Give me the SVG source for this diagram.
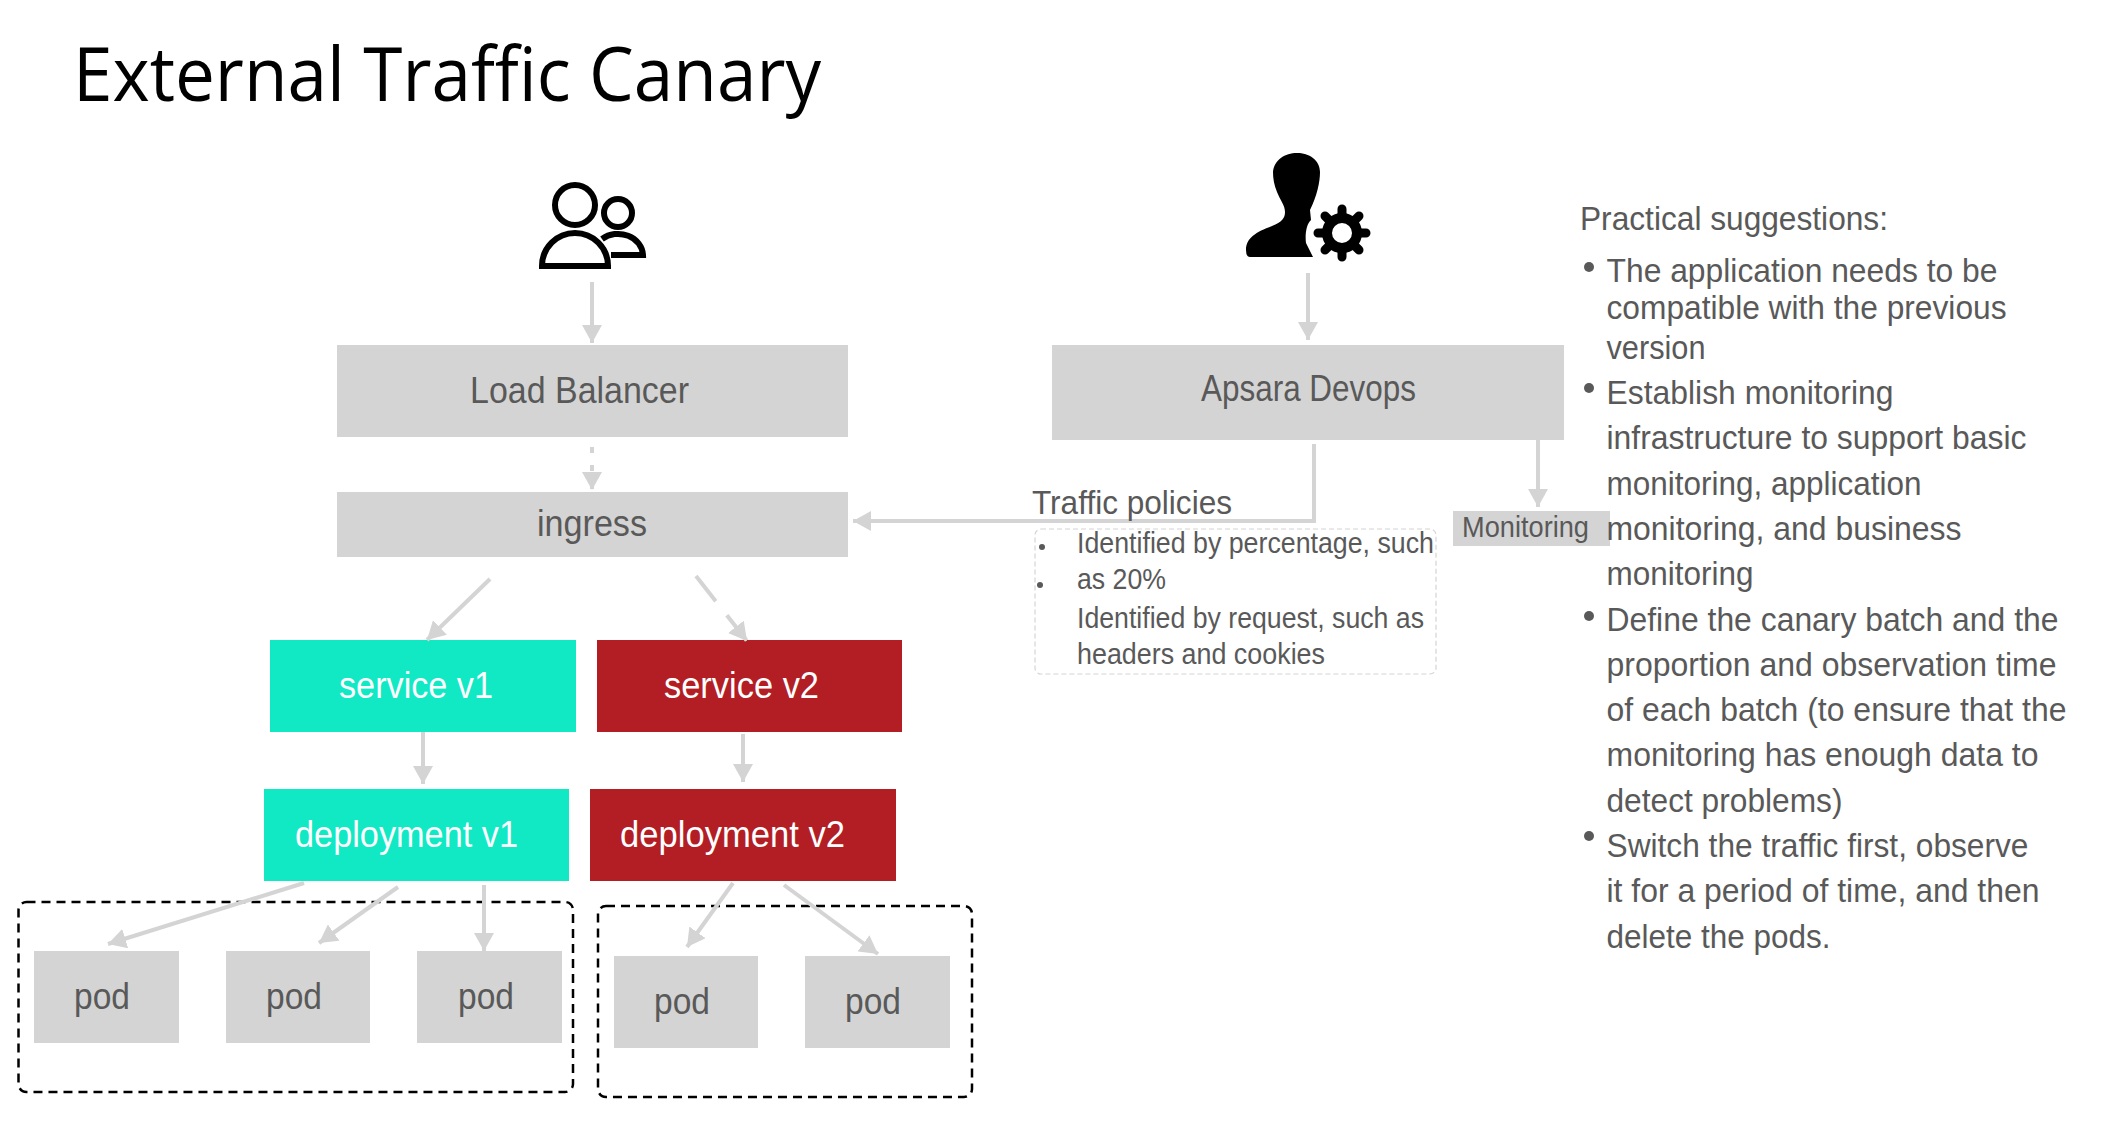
<svg xmlns="http://www.w3.org/2000/svg" width="2110" height="1122" viewBox="0 0 2110 1122">
<style>
text{font-family:"Liberation Sans",Arial,sans-serif;fill:#595959}
.n{font-size:36px}.w{fill:#fff}
.s{font-size:33px}.t{font-size:29px}
.title{font-family:"Open Sans","Noto Sans",sans-serif;font-size:75px;fill:#000}
.g{fill:#d4d4d4}.teal{fill:#10e9c4}.red{fill:#b31d24}
.c{fill:none;stroke:#d4d4d4;stroke-width:4}
.dash{fill:none;stroke:#000;stroke-width:2.5;stroke-dasharray:9 6}
.ic{fill:none;stroke:#000;stroke-width:6}
</style>
<defs>
<marker id="a" markerUnits="userSpaceOnUse" markerWidth="20" markerHeight="20" refX="18" refY="10" orient="auto"><path d="M0 0L18 10L0 20Z" fill="#d4d4d4"/></marker>
</defs>
<text class="title" x="73" y="101" textLength="748" lengthAdjust="spacingAndGlyphs">External Traffic Canary</text>
<g id="users-icon">
<circle class="ic" cx="575" cy="205" r="20"/><circle class="ic" cx="618" cy="213" r="14"/>
<path class="ic" d="M542 266H608A33 33 0 0 0 542 266Z"/>
<path class="ic" d="M611 255H643A25 22 0 0 0 602 239"/>
</g>
<g id="admin-icon">
<path d="M1250 257Q1246 257 1246 250C1246 238 1256 232 1272 226C1282 222 1285 218 1285 212C1285 205 1280 200 1277 192C1274 185 1273 178 1273 172C1274 160 1285 153 1297 153C1309 153 1320 160 1320 172C1320 182 1317 196 1310 210L1311 220C1306 224 1305 236 1306 243L1313 257Z"/>
<circle cx="1342" cy="233" r="15" fill="none" stroke="#000" stroke-width="10"/>
<g stroke="#000" stroke-width="9" stroke-linecap="round"><path d="M1342 214V209M1342 252V257M1323 233H1318M1361 233H1366M1329 220L1325 216M1355 246L1359 250M1355 220L1359 216M1329 246L1325 250"/></g>
</g>
<g id="load-balancer"><rect class="g" x="337" y="345" width="511" height="92"/><text class="n" x="470" y="403" textLength="219" lengthAdjust="spacingAndGlyphs">Load  Balancer</text></g>
<g id="ingress"><rect class="g" x="337" y="492" width="511" height="65"/><text class="n" x="537" y="536" textLength="110" lengthAdjust="spacingAndGlyphs">ingress</text></g>
<g id="apsara-devops"><rect class="g" x="1052" y="345" width="512" height="95"/><text class="n" x="1201" y="401" textLength="215" lengthAdjust="spacingAndGlyphs">Apsara Devops</text></g>
<g id="monitoring"><rect class="g" x="1453" y="511" width="157" height="35"/><text class="t" x="1462" y="537" textLength="127" lengthAdjust="spacingAndGlyphs">Monitoring</text></g>
<g id="service-v1"><rect class="teal" x="270" y="640" width="306" height="92"/><text class="n w" x="339" y="698" textLength="154" lengthAdjust="spacingAndGlyphs">service v1</text></g>
<g id="service-v2"><rect class="red" x="597" y="640" width="305" height="92"/><text class="n w" x="664" y="698" textLength="155" lengthAdjust="spacingAndGlyphs">service v2</text></g>
<g id="deployment-v1"><rect class="teal" x="264" y="789" width="305" height="92"/><text class="n w" x="295" y="847" textLength="223" lengthAdjust="spacingAndGlyphs">deployment  v1</text></g>
<g id="deployment-v2"><rect class="red" x="590" y="789" width="306" height="92"/><text class="n w" x="620" y="847" textLength="225" lengthAdjust="spacingAndGlyphs">deployment  v2</text></g>
<g id="group-v1"><rect class="dash" x="18.5" y="902" width="554.5" height="190" rx="8"/></g>
<g id="group-v2"><rect class="dash" x="598" y="906" width="374" height="191" rx="8"/></g>
<g id="pod-1"><rect class="g" x="34" y="951" width="145" height="92"/><text class="n" x="74" y="1009" textLength="56" lengthAdjust="spacingAndGlyphs">pod</text></g>
<g id="pod-2"><rect class="g" x="226" y="951" width="144" height="92"/><text class="n" x="266" y="1009" textLength="56" lengthAdjust="spacingAndGlyphs">pod</text></g>
<g id="pod-3"><rect class="g" x="417" y="951" width="145" height="92"/><text class="n" x="458" y="1009" textLength="56" lengthAdjust="spacingAndGlyphs">pod</text></g>
<g id="pod-4"><rect class="g" x="614" y="956" width="144" height="92"/><text class="n" x="654" y="1014" textLength="56" lengthAdjust="spacingAndGlyphs">pod</text></g>
<g id="pod-5"><rect class="g" x="805" y="956" width="145" height="92"/><text class="n" x="845" y="1014" textLength="56" lengthAdjust="spacingAndGlyphs">pod</text></g>
<g id="connectors">
<path class="c" marker-end="url(#a)" d="M592 282V343"/>
<path class="c" marker-end="url(#a)" d="M592 447V490" stroke-dasharray="6 12"/>
<path class="c" marker-end="url(#a)" d="M1308 273V340"/>
<path class="c" marker-end="url(#a)" d="M1314 444V521H853"/>
<path class="c" marker-end="url(#a)" d="M1538 440V507"/>
<path class="c" marker-end="url(#a)" d="M490 579L427 640"/>
<path class="c" marker-end="url(#a)" d="M696 576L747 641" stroke-dasharray="32 18"/>
<path class="c" marker-end="url(#a)" d="M423 732V784"/>
<path class="c" marker-end="url(#a)" d="M743 734V782"/>
<path class="c" marker-end="url(#a)" d="M304 883L108 944"/>
<path class="c" marker-end="url(#a)" d="M398 887L319 943"/>
<path class="c" marker-end="url(#a)" d="M484 885V951"/>
<path class="c" marker-end="url(#a)" d="M733 883L687 947"/>
<path class="c" marker-end="url(#a)" d="M784 885L878 954"/>
</g>
<g id="traffic-policies">
<text class="s" x="1032" y="514" textLength="200" lengthAdjust="spacingAndGlyphs">Traffic policies</text>
<rect x="1035" y="529" width="401" height="145" rx="6" fill="none" stroke="#d4d4d4" stroke-width="1.2" stroke-dasharray="5 3"/>
<circle cx="1042" cy="547" r="3" fill="#595959"/><circle cx="1040" cy="585" r="3" fill="#595959"/>
<text class="t" x="1077" y="553" textLength="357" lengthAdjust="spacingAndGlyphs">Identified by percentage, such</text>
<text class="t" x="1077" y="589" textLength="89" lengthAdjust="spacingAndGlyphs">as 20%</text>
<text class="t" x="1077" y="628" textLength="347" lengthAdjust="spacingAndGlyphs">Identified by request, such as</text>
<text class="t" x="1077" y="664" textLength="248" lengthAdjust="spacingAndGlyphs">headers and cookies</text>
</g>
<g id="suggestions">
<text class="s" x="1580" y="230" textLength="308" lengthAdjust="spacingAndGlyphs">Practical  suggestions:</text>
<circle cx="1589" cy="267" r="5" fill="#595959"/><circle cx="1589" cy="388" r="5" fill="#595959"/><circle cx="1589" cy="616" r="5" fill="#595959"/><circle cx="1589" cy="836" r="5" fill="#595959"/>
<text class="s" x="1606.5" y="282" textLength="391" lengthAdjust="spacingAndGlyphs">The application  needs to be</text>
<text class="s" x="1606.5" y="319" textLength="400" lengthAdjust="spacingAndGlyphs">compatible  with the previous</text>
<text class="s" x="1606.5" y="359" textLength="99" lengthAdjust="spacingAndGlyphs">version</text>
<text class="s" x="1606.5" y="404" textLength="287" lengthAdjust="spacingAndGlyphs">Establish  monitoring</text>
<text class="s" x="1606.5" y="449" textLength="420" lengthAdjust="spacingAndGlyphs">infrastructure to support  basic</text>
<text class="s" x="1606.5" y="495" textLength="315" lengthAdjust="spacingAndGlyphs">monitoring, application</text>
<text class="s" x="1606.5" y="540" textLength="355" lengthAdjust="spacingAndGlyphs">monitoring, and business</text>
<text class="s" x="1606.5" y="585" textLength="147" lengthAdjust="spacingAndGlyphs">monitoring</text>
<text class="s" x="1606.5" y="631" textLength="452" lengthAdjust="spacingAndGlyphs">Define the canary batch and the</text>
<text class="s" x="1606.5" y="676" textLength="450" lengthAdjust="spacingAndGlyphs">proportion  and observation  time</text>
<text class="s" x="1606.5" y="721" textLength="460" lengthAdjust="spacingAndGlyphs">of each  batch (to ensure that the</text>
<text class="s" x="1606.5" y="766" textLength="432" lengthAdjust="spacingAndGlyphs">monitoring has enough  data to</text>
<text class="s" x="1606.5" y="812" textLength="236" lengthAdjust="spacingAndGlyphs">detect  problems)</text>
<text class="s" x="1606.5" y="857" textLength="422" lengthAdjust="spacingAndGlyphs">Switch the traffic first, observe</text>
<text class="s" x="1606.5" y="902" textLength="433" lengthAdjust="spacingAndGlyphs">it for a period  of time, and then</text>
<text class="s" x="1606.5" y="948" textLength="224" lengthAdjust="spacingAndGlyphs">delete  the pods.</text>
</g>
</svg>
